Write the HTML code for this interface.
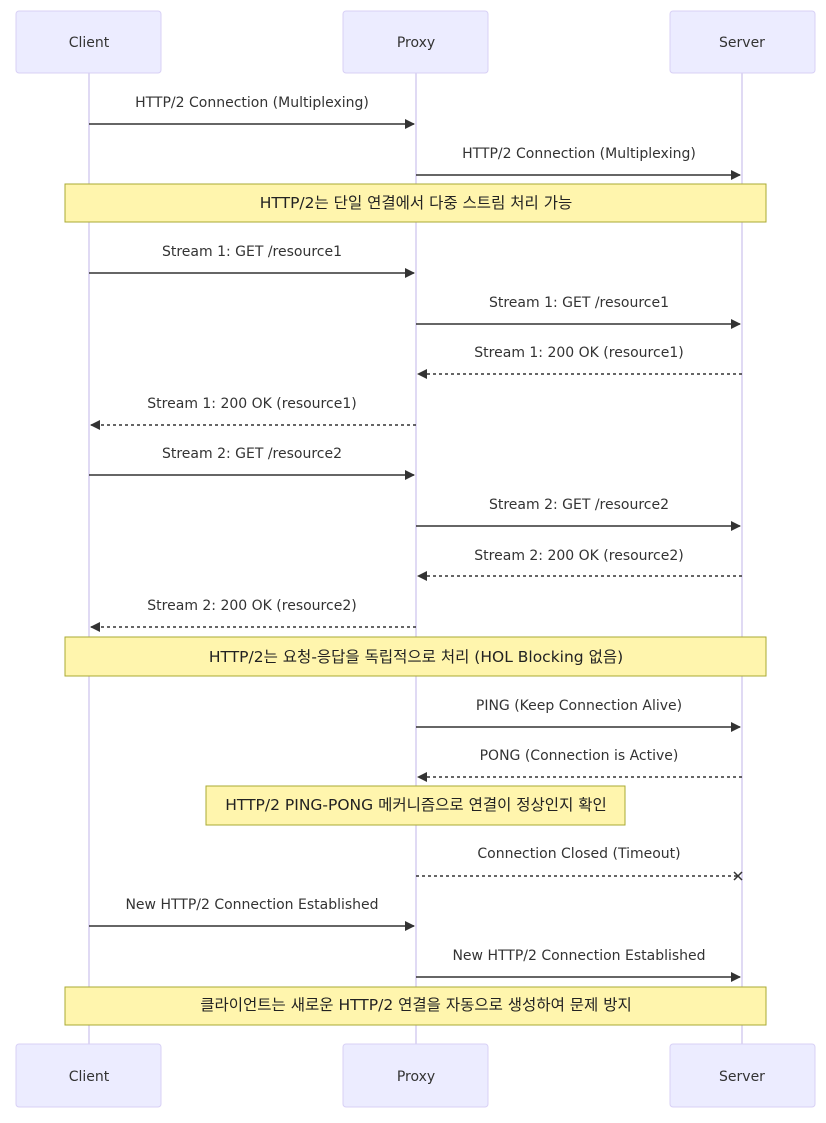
<!DOCTYPE html>
<html><head><meta charset="utf-8"><style>
html,body{margin:0;padding:0;background:#fff;}
svg text{font-family:"DejaVu Sans","Noto Sans CJK KR",sans-serif;font-size:14px;fill:#333;text-anchor:middle;}
svg text.n{font-size:15.5px;fill:#222;}
</style></head><body>
<svg width="826" height="1118" viewBox="0 0 826 1118" xmlns="http://www.w3.org/2000/svg">
<defs>
<marker id="ah" markerWidth="10" markerHeight="10" refX="9" refY="5" orient="auto" markerUnits="userSpaceOnUse"><path d="M0,0 L10,5 L0,10 z" fill="#333"/></marker>
</defs>
<g stroke="#d5cdf0" stroke-width="1.5">
<line x1="89" y1="73" x2="89" y2="1044"/>
<line x1="416" y1="73" x2="416" y2="1044"/>
<line x1="742" y1="73" x2="742" y2="1044"/>
</g>
<g fill="#ECECFF" stroke="#d8d0f5" stroke-width="1">
<rect x="16" y="11" width="145" height="62" rx="3"/>
<rect x="343" y="11" width="145" height="62" rx="3"/>
<rect x="670" y="11" width="145" height="62" rx="3"/>
<rect x="16" y="1044" width="145" height="63" rx="3"/>
<rect x="343" y="1044" width="145" height="63" rx="3"/>
<rect x="670" y="1044" width="145" height="63" rx="3"/>
</g>
<text x="89" y="47">Client</text><text x="416" y="47">Proxy</text><text x="742" y="47">Server</text>
<text x="89" y="1081">Client</text><text x="416" y="1081">Proxy</text><text x="742" y="1081">Server</text>
<g fill="#fff5ad" stroke="#aaaa33" stroke-width="1">
<rect x="65" y="184" width="701" height="38"/>
<rect x="65" y="637" width="701" height="39"/>
<rect x="206" y="786" width="419" height="39"/>
<rect x="65" y="987" width="701" height="38"/>
</g>
<text class="n" x="416" y="208">HTTP/2는 단일 연결에서 다중 스트림 처리 가능</text>
<text class="n" x="416" y="662">HTTP/2는 요청-응답을 독립적으로 처리 (HOL Blocking 없음)</text>
<text class="n" x="416" y="810">HTTP/2 PING-PONG 메커니즘으로 연결이 정상인지 확인</text>
<text class="n" x="416" y="1010">클라이언트는 새로운 HTTP/2 연결을 자동으로 생성하여 문제 방지</text>
<g stroke="#333" stroke-width="1.5" fill="none">
<line x1="89" y1="124" x2="414" y2="124" marker-end="url(#ah)"/>
<line x1="416" y1="175" x2="740" y2="175" marker-end="url(#ah)"/>
<line x1="89" y1="273" x2="414" y2="273" marker-end="url(#ah)"/>
<line x1="416" y1="324" x2="740" y2="324" marker-end="url(#ah)"/>
<line x1="742" y1="374" x2="418" y2="374" stroke-dasharray="3,3" marker-end="url(#ah)"/>
<line x1="416" y1="425" x2="91" y2="425" stroke-dasharray="3,3" marker-end="url(#ah)"/>
<line x1="89" y1="475" x2="414" y2="475" marker-end="url(#ah)"/>
<line x1="416" y1="526" x2="740" y2="526" marker-end="url(#ah)"/>
<line x1="742" y1="576" x2="418" y2="576" stroke-dasharray="3,3" marker-end="url(#ah)"/>
<line x1="416" y1="627" x2="91" y2="627" stroke-dasharray="3,3" marker-end="url(#ah)"/>
<line x1="416" y1="727" x2="740" y2="727" marker-end="url(#ah)"/>
<line x1="742" y1="777" x2="418" y2="777" stroke-dasharray="3,3" marker-end="url(#ah)"/>
<line x1="416" y1="876" x2="738" y2="876" stroke-dasharray="3,3"/>
<path d="M734,872 L742,880 M742,872 L734,880"/>
<line x1="89" y1="926" x2="414" y2="926" marker-end="url(#ah)"/>
<line x1="416" y1="977" x2="740" y2="977" marker-end="url(#ah)"/>
</g>
<text x="252" y="107">HTTP/2 Connection (Multiplexing)</text>
<text x="579" y="158">HTTP/2 Connection (Multiplexing)</text>
<text x="252" y="256">Stream 1: GET /resource1</text>
<text x="579" y="307">Stream 1: GET /resource1</text>
<text x="579" y="357">Stream 1: 200 OK (resource1)</text>
<text x="252" y="408">Stream 1: 200 OK (resource1)</text>
<text x="252" y="458">Stream 2: GET /resource2</text>
<text x="579" y="509">Stream 2: GET /resource2</text>
<text x="579" y="560">Stream 2: 200 OK (resource2)</text>
<text x="252" y="610">Stream 2: 200 OK (resource2)</text>
<text x="579" y="710">PING (Keep Connection Alive)</text>
<text x="579" y="760">PONG (Connection is Active)</text>
<text x="579" y="858">Connection Closed (Timeout)</text>
<text x="252" y="909">New HTTP/2 Connection Established</text>
<text x="579" y="960">New HTTP/2 Connection Established</text>
</svg>
</body></html>
